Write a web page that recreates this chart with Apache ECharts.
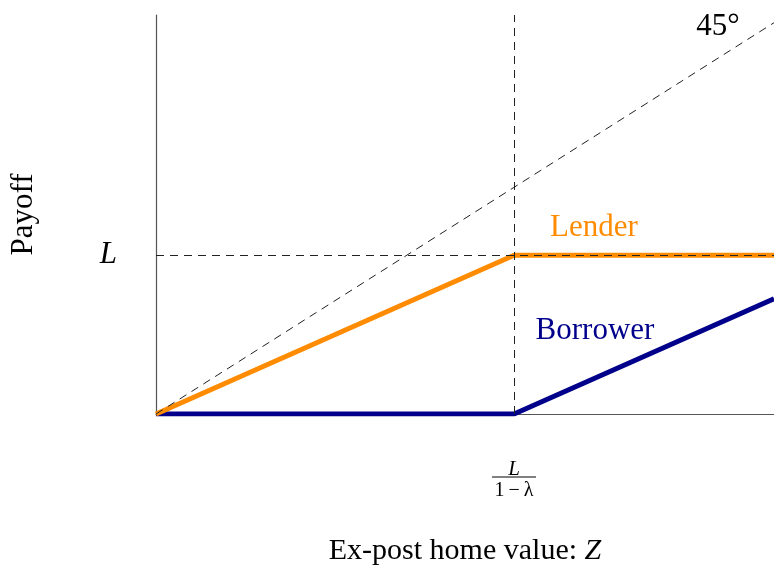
<!DOCTYPE html>
<html>
<head>
<meta charset="utf-8">
<script src="https://cdn.jsdelivr.net/npm/echarts@6/dist/echarts.min.js"></script>
<style>
  html, body { margin: 0; padding: 0; background: #fff; }
  #main { width: 774px; height: 567px; }
</style>
</head>
<body>
<div id="main"></div>
<script>
// payoff diagram, lambda = 0.3, L = 70
var zValues = [0, 100, 172.6];
var lenderPayoff = [0, 70, 70];
var borrowerPayoff = [0, 0, 50.8];
var diagonal = [0, 172.6];
var kinkZ = 100;
var loanL = 70;

var FONT = 'Liberation Serif';

function pairs(xs, ys) {
  var out = [];
  for (var i = 0; i < xs.length; i++) {
    out.push([xs[i], ys[i]]);
  }
  return out;
}

var chart = echarts.init(document.getElementById('main'));

var option = {
  backgroundColor: '#fff',
  animation: false,
  grid: { left: 156, right: 0, top: 15, bottom: 153, containLabel: false, outerBoundsMode: 'none' },
  xAxis: {
    type: 'value',
    min: 0,
    max: 172.6,
    name: '{t|Ex-post home value: }{i|Z}',
    nameLocation: 'middle',
    nameGap: 122,
    nameTextStyle: {
      rich: {
        t: { fontFamily: FONT, fontSize: 30, color: '#000' },
        i: { fontFamily: FONT, fontSize: 30, fontStyle: 'italic', color: '#000' }
      }
    },
    splitLine: { show: false },
    axisTick: { show: false },
    axisLine: { lineStyle: { color: '#555', width: 1.2 } },
    axisLabel: {
      customValues: [kinkZ],
      margin: 44,
      formatter: function () { return '{n|L}\n{d|1\u2009−\u2009λ}'; },
      rich: {
        n: { fontFamily: FONT, fontSize: 21, fontStyle: 'italic', color: '#000', lineHeight: 22 },
        d: { fontFamily: FONT, fontSize: 20, color: '#000', lineHeight: 22 }
      }
    }
  },
  yAxis: {
    type: 'value',
    min: 0,
    max: 176,
    name: 'Payoff',
    nameLocation: 'middle',
    nameGap: 117,
    nameRotate: 90,
    nameTextStyle: { fontFamily: FONT, fontSize: 31, color: '#000' },
    splitLine: { show: false },
    axisTick: { show: false },
    axisLine: { show: true, lineStyle: { color: '#555', width: 1.2 } },
    axisLabel: {
      customValues: [loanL],
      margin: 39,
      fontFamily: FONT,
      fontSize: 31,
      fontStyle: 'italic',
      color: '#000',
      formatter: function () { return 'L'; }
    }
  },
  series: [
    {
      name: 'Borrower',
      type: 'line',
      data: pairs(zValues, borrowerPayoff),
      symbol: 'none',
      z: 3,
      lineStyle: { color: '#00008b', width: 5 }
    },
    {
      name: 'Lender',
      type: 'line',
      data: pairs(zValues, lenderPayoff),
      symbol: 'none',
      z: 3,
      lineStyle: { color: '#ff8c00', width: 5 }
    },
    {
      name: '45',
      type: 'line',
      data: pairs(diagonal, diagonal),
      symbol: 'none',
      z: 4,
      lineStyle: { color: '#222', width: 1, type: [8, 6] },
      markLine: {
        silent: true,
        symbol: 'none',
        label: { show: false },
        lineStyle: { color: '#222', width: 1, type: [8, 6] },
        data: [{ xAxis: kinkZ }, { yAxis: loanL }]
      }
    }
  ]
};

chart.setOption(option);

var kx = chart.convertToPixel({ xAxisIndex: 0 }, kinkZ);

chart.setOption({
  graphic: [
    {
      type: 'line',
      shape: { x1: kx - 22, y1: 477, x2: kx + 22, y2: 477 },
      style: { stroke: '#000', lineWidth: 1 }
    },
    {
      type: 'text',
      x: 594, y: 228,
      style: { text: 'Lender', fill: '#ff8c00', font: '31px "Liberation Serif"', align: 'center', verticalAlign: 'middle' }
    },
    {
      type: 'text',
      x: 595, y: 331,
      style: { text: 'Borrower', fill: '#00008b', font: '31px "Liberation Serif"', align: 'center', verticalAlign: 'middle' }
    },
    {
      type: 'text',
      x: 718, y: 27,
      style: { text: '45°', fill: '#000', font: '31px "Liberation Serif"', align: 'center', verticalAlign: 'middle' }
    }
  ]
});
</script>
</body>
</html>
